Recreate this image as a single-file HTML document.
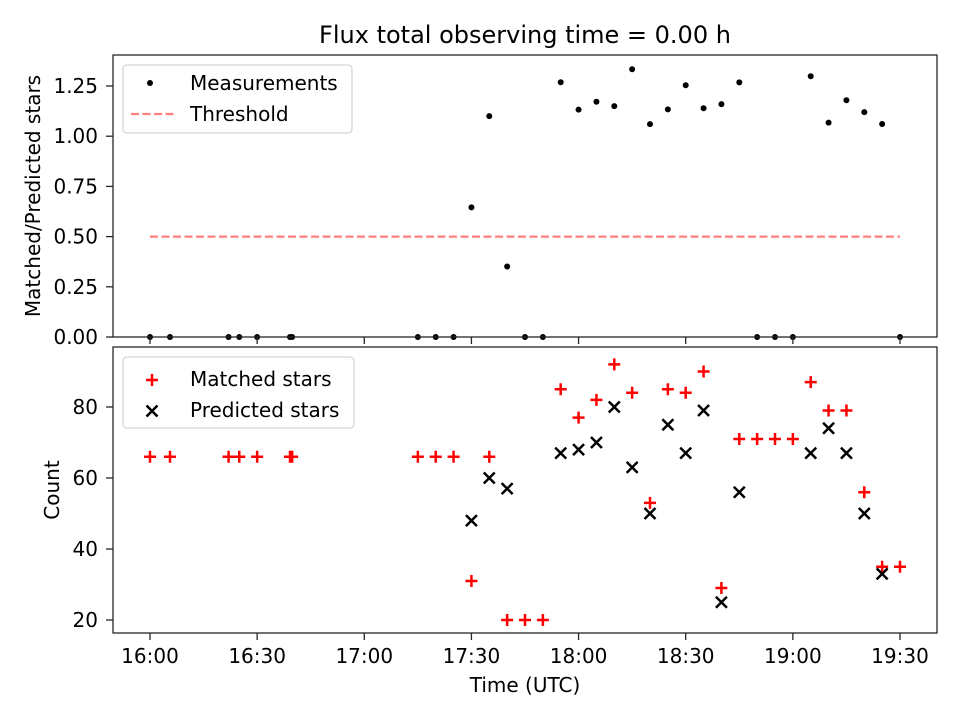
<!DOCTYPE html>
<html><head><meta charset="utf-8"><style>
body{margin:0;background:#fff}
svg{font-family:"DejaVu Sans","Liberation Sans",sans-serif}
</style></head><body>
<svg id="c" width="960" height="720" xmlns="http://www.w3.org/2000/svg"></svg>
<script>
const times=[0,5.6,22,25,30,39.2,39.8,75,80,85,90,95,100,105,110,115,120,125,130,135,140,145,150,155,160,165,170,175,180,185,190,195,200,205,210];
const matched=[66,66,66,66,66,66,66,66,66,66,31,66,20,20,20,85,77,82,92,84,53,85,84,90,29,71,71,71,71,87,79,79,56,35,35];
const predicted=[null,null,null,null,null,null,null,null,null,null,48,60,57,null,null,67,68,70,80,63,50,75,67,79,25,56,null,null,null,67,74,67,50,33,null];
const xTickMin=[0,30,60,90,120,150,180,210];
const xTickLabels=["16:00","16:30","17:00","17:30","18:00","18:30","19:00","19:30"];
const topTicks=[0,0.25,0.5,0.75,1.0,1.25];
const botTicks=[20,40,60,80];
const threshold=0.5;

const NS="http://www.w3.org/2000/svg";
const svg=document.getElementById('c');
function el(t,a,p){const e=document.createElementNS(NS,t);for(const k in a)e.setAttribute(k,a[k]);(p||svg).appendChild(e);return e;}
const L=113,R=937;
const xs=m=>150+m*750/210;
const yTop=v=>337-v*251/1.25;
const yBot=v=>620-(v-20)*213/60;
const FS=20;

let t=el('text',{x:525,y:43,'text-anchor':'middle','font-size':24});t.textContent='Flux total observing time = 0.00 h';



const gT=el('g',{});


const gB=el('g',{});



let th=el('line',{x1:xs(0),x2:xs(210),y1:yTop(threshold),y2:yTop(threshold),stroke:'#ff7f7f','stroke-width':2.2,'stroke-dasharray':'8,3.5'},gT);



times.forEach((m,i)=>{
  const r=predicted[i]?matched[i]/predicted[i]:0;
  const c=el('circle',{cx:xs(m),cy:yTop(r),r:3,fill:'#000'},gT);
  
  
});
times.forEach((m,i)=>{
  const x=xs(m),y=yBot(matched[i]);
  const p=el('path',{d:`M${x-6} ${y}H${x+6}M${x} ${y-6}V${y+6}`,stroke:'#f00','stroke-width':2.5},gB);
  
  
  if(predicted[i]!=null){
    const yp=yBot(predicted[i]);
    const q=el('path',{d:`M${x-5.5} ${yp-5.5}L${x+5.5} ${yp+5.5}M${x-5.5} ${yp+5.5}L${x+5.5} ${yp-5.5}`,stroke:'#000','stroke-width':2.5},gB);
    
    
  }
});

let f1=el('rect',{x:L,y:55,width:R-L,height:282,fill:'none',stroke:'#262626','stroke-width':1.3},gT);


let f2=el('rect',{x:L,y:347,width:R-L,height:286,fill:'none',stroke:'#262626','stroke-width':1.3},gB);



xTickMin.forEach((m,i)=>{
  const x=xs(m);
  el('line',{x1:x,x2:x,y1:337,y2:344,stroke:'#262626','stroke-width':1.3},gT);
  el('line',{x1:x,x2:x,y1:633,y2:640,stroke:'#262626','stroke-width':1.3},gB);
  const tx=el('text',{x:x,y:663,'text-anchor':'middle','font-size':FS},gB);tx.textContent=xTickLabels[i];
  
  
});
topTicks.forEach(v=>{
  const y=yTop(v);
  el('line',{x1:L-7,x2:L,y1:y,y2:y,stroke:'#262626','stroke-width':1.3},gT);
  const tx=el('text',{x:L-15,y:y+7,'text-anchor':'end','font-size':FS},gT);tx.textContent=v.toFixed(2);
  
  
});
botTicks.forEach(v=>{
  const y=yBot(v);
  el('line',{x1:L-7,x2:L,y1:y,y2:y,stroke:'#262626','stroke-width':1.3},gB);
  const tx=el('text',{x:L-15,y:y+7,'text-anchor':'end','font-size':FS},gB);tx.textContent=v;
  
  
});

let a1=el('text',{x:40,y:196,'text-anchor':'middle','font-size':FS,transform:'rotate(-90 40 196)'});a1.textContent='Matched/Predicted stars';


let a2=el('text',{x:59,y:490,'text-anchor':'middle','font-size':FS,transform:'rotate(-90 59 490)'});a2.textContent='Count';


let a3=el('text',{x:525,y:692,'text-anchor':'middle','font-size':FS});a3.textContent='Time (UTC)';



let lg1=el('g',{});


el('rect',{x:123,y:65,width:229,height:68,rx:4,fill:'#fff','fill-opacity':0.8,stroke:'#d6d6d6','stroke-width':1.3},lg1);
el('circle',{cx:150,cy:83,r:3,fill:'#000'},lg1);
let lt=el('text',{x:190,y:90,'font-size':FS},lg1);lt.textContent='Measurements';


el('line',{x1:131,x2:175,y1:114,y2:114,stroke:'#ff7f7f','stroke-width':2.2,'stroke-dasharray':'8,3.5'},lg1);
lt=el('text',{x:190,y:121,'font-size':FS},lg1);lt.textContent='Threshold';



let lg2=el('g',{});


el('rect',{x:123,y:357,width:231,height:71,rx:4,fill:'#fff','fill-opacity':0.8,stroke:'#d6d6d6','stroke-width':1.3},lg2);
el('path',{d:'M146 380H158M152 374V386',stroke:'#f00','stroke-width':2.5},lg2);
lt=el('text',{x:190,y:386,'font-size':FS},lg2);lt.textContent='Matched stars';


el('path',{d:'M146.5 405.5L157.5 416.5M146.5 416.5L157.5 405.5',stroke:'#000','stroke-width':2.5},lg2);
lt=el('text',{x:190,y:417,'font-size':FS},lg2);lt.textContent='Predicted stars';


</script>
</body></html>
